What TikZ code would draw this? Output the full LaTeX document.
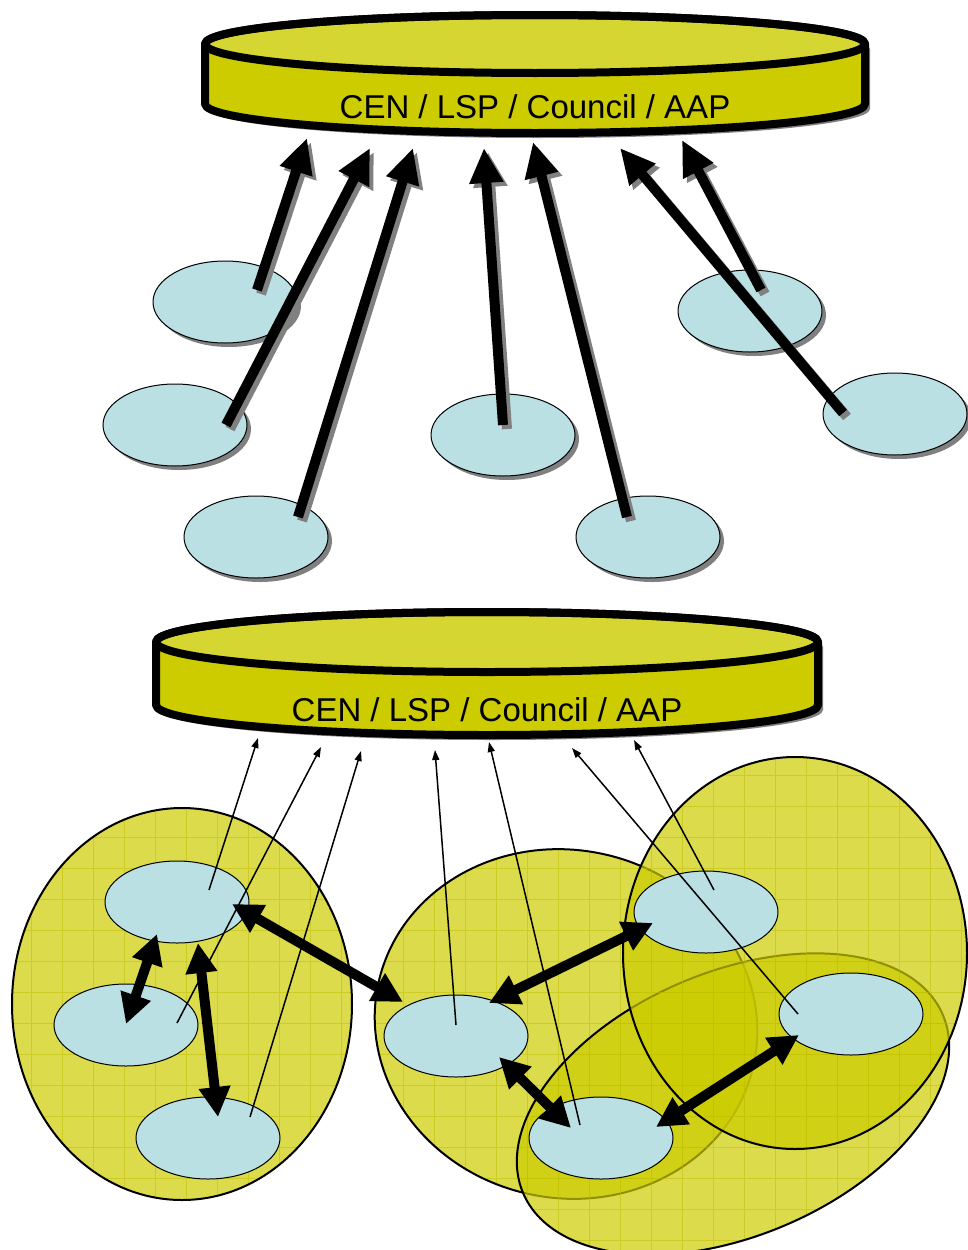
\documentclass[tikz,border=0pt]{standalone}
\usepackage{fontspec}
\setmainfont{Liberation Sans}
\usetikzlibrary{arrows.meta,shapes.geometric,shadows,calc}
\definecolor{diskside}{RGB}{204,204,0}
\definecolor{disktop}{RGB}{214,214,51}
\definecolor{nodeblue}{RGB}{186,224,228}
\definecolor{shadowgray}{RGB}{128,128,128}
\definecolor{gridyel}{RGB}{190,190,0}
\begin{document}
\begin{tikzpicture}[x=1pt,y=-1pt,
  blueell/.style={ellipse, draw=black, line width=1pt, fill=nodeblue, minimum width=144pt, minimum height=82pt, inner sep=0pt},
  shadowed/.style={drop shadow={shadow xshift=4pt, shadow yshift=-4pt, fill=shadowgray, opacity=1}},
  bigarrow/.style={line width=10pt, -{Triangle[length=35pt,width=32pt]}},
  bigarrowshadow/.style={bigarrow, draw=shadowgray, transform canvas={shift={(4pt,-4pt)}}},
  dblarrow/.style={line width=10pt, {Triangle[length=30pt,width=30pt]}-{Triangle[length=30pt,width=30pt]}},
  thinarrow/.style={line width=1.5pt, -{Triangle[length=10pt,width=7pt]}},
  disklabel/.style={font=\fontsize{33}{39}\selectfont, inner sep=0pt},
  diskline/.style={line width=8pt, line join=round},
  bigoutline/.style={line width=2pt},
  bigfill/.style={fill=diskside, opacity=.7},
  gridlines/.style={draw=gridyel, line width=.8pt, opacity=.5},
]
\useasboundingbox (0,0) rectangle (968,1250);
\fill[white] (0,0) rectangle (968,1250);

% ================= TOP DISK =================
\fill[shadowgray] (210,49) -- (210,109) arc[start angle=180,end angle=360,x radius=330pt,y radius=29pt] -- (870,49) arc[start angle=0,end angle=180,x radius=330pt,y radius=29pt] -- cycle;
\fill[diskside] (205,44) -- (205,104) arc[start angle=180,end angle=360,x radius=330pt,y radius=29pt] -- (865,44) arc[start angle=0,end angle=180,x radius=330pt,y radius=29pt] -- cycle;
\fill[disktop] (535,44) ellipse [x radius=330pt, y radius=29pt];
\draw[diskline] (205,44) -- (205,104) arc[start angle=180,end angle=360,x radius=330pt,y radius=29pt] -- (865,44) arc[start angle=0,end angle=180,x radius=330pt,y radius=29pt] -- cycle;
\draw[diskline] (535,44) ellipse [x radius=330pt, y radius=29pt];
\node[disklabel] (topdisk) at (535,107) {CEN / LSP / Council / AAP};

% top nodes
\node[blueell, shadowed] (e1) at (225,302) {};
\node[blueell, shadowed] (e2) at (175,425) {};
\node[blueell, shadowed] (e3) at (256,537) {};
\node[blueell, shadowed] (e4) at (503,435) {};
\node[blueell, shadowed] (e5) at (648,537) {};
\node[blueell, shadowed] (e6) at (750,311) {};
\node[blueell, shadowed] (e7) at (895,414) {};

\coordinate (s1) at (257,290); \coordinate (t1) at (307,138);
\coordinate (s2) at (226,425); \coordinate (t2) at (370,148);
\coordinate (s3) at (298,517); \coordinate (t3) at (413,148);
\coordinate (s4) at (503,425); \coordinate (t4) at (484,148);
\coordinate (s5) at (627,517); \coordinate (t5) at (533,142);
\coordinate (s6) at (843,413); \coordinate (t6) at (620,148);
\coordinate (s7) at (761,290); \coordinate (t7) at (682,140);

\foreach \i in {1,...,7} { \draw[bigarrowshadow] (s\i) -- (t\i); }
\foreach \i in {1,...,7} { \draw[bigarrow] (s\i) -- (t\i); }

% ================= BOTTOM DISK =================
\fill[shadowgray] (161,647) -- (161,710) arc[start angle=180,end angle=360,x radius=331pt,y radius=30pt] -- (823,647) arc[start angle=0,end angle=180,x radius=331pt,y radius=30pt] -- cycle;
\fill[diskside] (156,642) -- (156,705) arc[start angle=180,end angle=360,x radius=331pt,y radius=30pt] -- (818,642) arc[start angle=0,end angle=180,x radius=331pt,y radius=30pt] -- cycle;
\fill[disktop] (487,642) ellipse [x radius=331pt, y radius=30pt];
\draw[diskline] (156,642) -- (156,705) arc[start angle=180,end angle=360,x radius=331pt,y radius=30pt] -- (818,642) arc[start angle=0,end angle=180,x radius=331pt,y radius=30pt] -- cycle;
\draw[diskline] (487,642) ellipse [x radius=331pt, y radius=30pt];
\node[disklabel] (botdisk) at (487,710) {CEN / LSP / Council / AAP};

% ================= BIG GROUP ELLIPSES =================
% A (left)
\begin{scope}
  \clip (182,1004) ellipse [x radius=170pt, y radius=196pt];
  \path[bigfill] (0,760) rectangle (968,1250);
  \draw[gridlines] (0,760) grid[step=31pt] (968,1250);
\end{scope}
\draw[bigoutline] (182,1004) ellipse [x radius=170pt, y radius=196pt];
% B (middle)
\begin{scope}
  \clip[rotate around={-12:(566,1024)}] (566,1024) ellipse [x radius=192pt, y radius=174pt];
  \path[bigfill] (0,760) rectangle (968,1250);
  \draw[gridlines] (0,760) grid[step=31pt] (968,1250);
\end{scope}
\draw[bigoutline, rotate around={-12:(566,1024)}] (566,1024) ellipse [x radius=192pt, y radius=174pt];
% D (lower right, tilted)
\begin{scope}
  \clip[rotate around={23:(733,1104)}] (733,1104) ellipse [x radius=228pt, y radius=132pt];
  \path[bigfill] (0,760) rectangle (968,1250);
  \draw[gridlines] (0,760) grid[step=31pt] (968,1250);
\end{scope}
\draw[bigoutline, rotate around={23:(733,1104)}] (733,1104) ellipse [x radius=228pt, y radius=132pt];
% C (right, tall)
\begin{scope}
  \clip (795,953) ellipse [x radius=172pt, y radius=196pt];
  \path[bigfill] (0,740) rectangle (968,1250);
  \draw[gridlines] (0,740) grid[step=31pt] (968,1250);
\end{scope}
\draw[bigoutline] (795,953) ellipse [x radius=172pt, y radius=196pt];

% bottom nodes
\node[blueell] (a1) at (177,902) {};
\node[blueell] (a2) at (126,1025) {};
\node[blueell] (a3) at (208,1138) {};
\node[blueell] (b1) at (456,1036) {};
\node[blueell] (b2) at (706,912) {};
\node[blueell] (b3) at (851,1014) {};
\node[blueell] (b4) at (601,1138) {};

% thin arrows to the bottom disk
\coordinate (p1) at (209,890);  \coordinate (q1) at (258,738);
\coordinate (p2) at (177,1023); \coordinate (q2) at (321,747);
\coordinate (p3) at (250,1117); \coordinate (q3) at (361,751);
\coordinate (p4) at (456,1025); \coordinate (q4) at (435,750);
\coordinate (p5) at (580,1125); \coordinate (q5) at (489,742);
\coordinate (p6) at (798,1014); \coordinate (q6) at (572,748);
\coordinate (p7) at (714,890);  \coordinate (q7) at (634,740);
\foreach \i in {1,...,7} { \draw[thinarrow] (p\i) -- (q\i); }

% double arrows
\coordinate (d1a) at (232,904); \coordinate (d1b) at (403,1002);
\coordinate (d2a) at (157,934); \coordinate (d2b) at (126,1024);
\coordinate (d3a) at (198,943); \coordinate (d3b) at (218,1117);
\coordinate (d4a) at (489,1003); \coordinate (d4b) at (653,923);
\coordinate (d5a) at (499,1057); \coordinate (d5b) at (571,1128);
\coordinate (d6a) at (656,1127); \coordinate (d6b) at (799,1035);
\foreach \i in {1,...,6} { \draw[dblarrow] (d\i a) -- (d\i b); }
\end{tikzpicture}
\end{document}
